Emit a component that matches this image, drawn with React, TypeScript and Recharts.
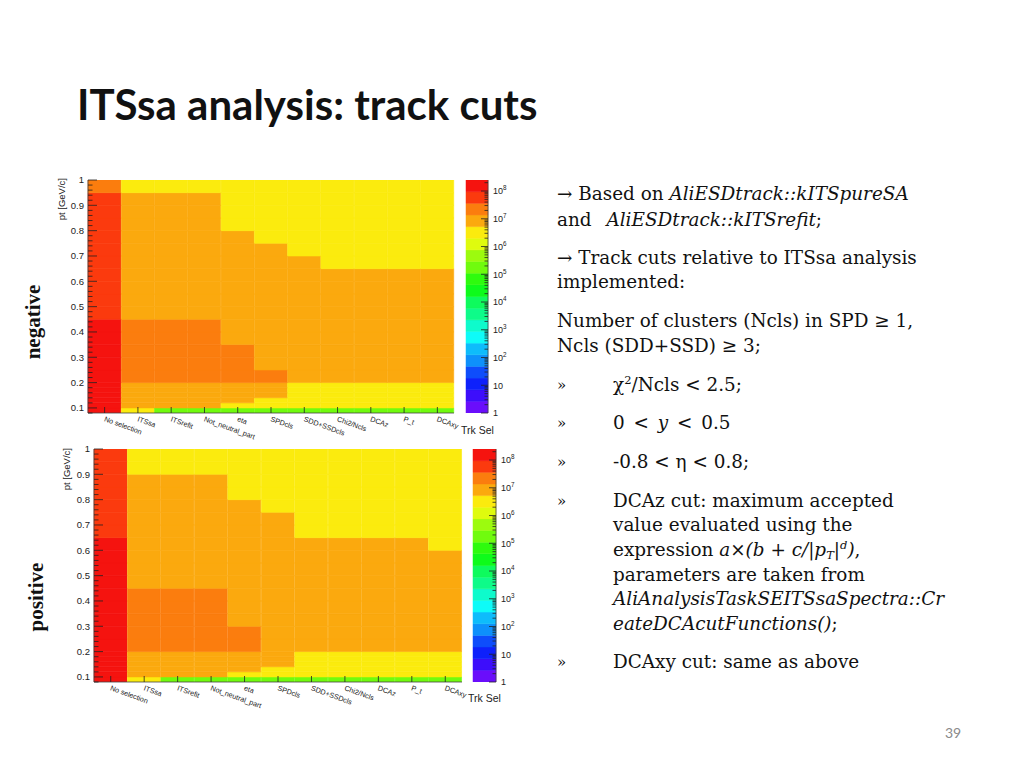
import React from "react"
import { BarChart, Bar, XAxis, YAxis, Cell } from "recharts"

// track selection steps (x bins)
const CATEGORIES = [
  "No selection",
  "ITSsa",
  "ITSrefit",
  "Not_neutral_part",
  "eta",
  "SPDcls",
  "SDD+SSDcls",
  "Chi2/Ncls",
  "DCAz",
  "P_t",
  "DCAxy",
]

// pt bin edges [GeV/c]
const PT_EDGES = [
  0.08, 0.1, 0.12, 0.14, 0.16, 0.18, 0.2, 0.25, 0.3, 0.35, 0.4, 0.45, 0.5, 0.55, 0.6, 0.65, 0.7, 0.75,
  0.8, 0.85, 0.9, 0.95, 1.0,
]

// counts per selection step, one entry per pt bin (low -> high)
const NEG_COUNTS = [
  [1.3e8, 1.5e8, 1.6e8, 1.6e8, 1.5e8, 1.5e8, 1.4e8, 1.3e8, 1.2e8, 1.1e8, 1.0e8, 8.0e7, 7.6e7, 7.0e7, 6.5e7, 6.0e7, 5.5e7, 5.0e7, 4.6e7, 4.2e7, 3.8e7, 3.0e7],
  [3.5e6, 9.0e6, 1.0e7, 1.1e7, 1.2e7, 1.25e7, 2.6e7, 2.4e7, 2.1e7, 1.8e7, 1.5e7, 1.3e7, 1.2e7, 1.1e7, 1.0e7, 9.5e6, 9.0e6, 8.0e6, 7.5e6, 7.0e6, 6.0e6, 4.5e6],
  [1.8e5, 8.5e6, 9.8e6, 1.05e7, 1.15e7, 1.2e7, 2.5e7, 2.3e7, 2.0e7, 1.7e7, 1.45e7, 1.25e7, 1.15e7, 1.05e7, 9.8e6, 9.2e6, 8.6e6, 7.8e6, 7.2e6, 6.6e6, 5.8e6, 4.3e6],
  [1.7e5, 8.2e6, 9.5e6, 1.0e7, 1.1e7, 1.15e7, 2.4e7, 2.2e7, 1.9e7, 1.6e7, 1.45e7, 1.2e7, 1.1e7, 1.0e7, 9.4e6, 8.8e6, 8.2e6, 7.5e6, 6.9e6, 6.3e6, 5.5e6, 4.1e6],
  [1.6e5, 4.5e6, 7.0e6, 8.5e6, 9.5e6, 1.05e7, 1.9e7, 1.7e7, 1.45e7, 1.3e7, 1.15e7, 1.05e7, 9.5e6, 8.8e6, 8.0e6, 7.2e6, 6.5e6, 5.8e6, 5.0e6, 4.5e6, 4.0e6, 3.5e6],
  [1.5e5, 3.5e6, 4.8e6, 6.5e6, 8.0e6, 9.5e6, 1.5e7, 1.3e7, 1.2e7, 1.15e7, 1.05e7, 9.5e6, 8.8e6, 8.0e6, 7.2e6, 6.4e6, 5.6e6, 5.0e6, 4.4e6, 3.9e6, 3.4e6, 3.0e6],
  [1.4e5, 2.6e6, 3.4e6, 4.0e6, 4.5e6, 5.0e6, 1.2e7, 1.15e7, 1.1e7, 1.0e7, 9.2e6, 8.5e6, 7.6e6, 6.8e6, 6.1e6, 5.5e6, 4.9e6, 4.4e6, 3.9e6, 3.5e6, 3.1e6, 2.8e6],
  [1.3e5, 2.5e6, 3.3e6, 3.9e6, 4.4e6, 4.9e6, 1.15e7, 1.1e7, 1.05e7, 9.6e6, 8.8e6, 8.0e6, 7.2e6, 6.4e6, 5.7e6, 4.9e6, 4.6e6, 4.1e6, 3.7e6, 3.3e6, 3.0e6, 2.7e6],
  [1.25e5, 2.4e6, 3.2e6, 3.8e6, 4.3e6, 4.8e6, 1.1e7, 1.05e7, 1.0e7, 9.2e6, 8.4e6, 7.6e6, 6.9e6, 6.1e6, 5.5e6, 4.8e6, 4.3e6, 3.9e6, 3.5e6, 3.2e6, 2.9e6, 2.6e6],
  [1.2e5, 2.35e6, 3.1e6, 3.7e6, 4.2e6, 4.7e6, 1.08e7, 1.03e7, 9.8e6, 9.0e6, 8.2e6, 7.4e6, 6.7e6, 6.0e6, 5.4e6, 4.7e6, 4.2e6, 3.8e6, 3.4e6, 3.1e6, 2.8e6, 2.5e6],
  [1.15e5, 2.3e6, 3.0e6, 3.6e6, 4.1e6, 4.6e6, 1.05e7, 1.0e7, 9.5e6, 8.8e6, 8.0e6, 7.2e6, 6.5e6, 5.9e6, 5.3e6, 4.6e6, 4.1e6, 3.7e6, 3.3e6, 3.0e6, 2.7e6, 2.4e6],
]

const POS_COUNTS = [
  [1.3e8, 1.5e8, 1.6e8, 1.6e8, 1.5e8, 1.5e8, 1.45e8, 1.35e8, 1.25e8, 1.2e8, 1.1e8, 1.05e8, 1.0e8, 9.8e7, 9.6e7, 9.0e7, 8.0e7, 7.0e7, 6.2e7, 5.5e7, 4.8e7, 4.2e7],
  [3.6e6, 9.2e6, 1.05e7, 1.15e7, 1.2e7, 1.3e7, 2.7e7, 2.5e7, 2.2e7, 1.9e7, 1.6e7, 1.3e7, 1.2e7, 1.1e7, 1.0e7, 9.4e6, 8.6e6, 7.8e6, 7.0e6, 6.2e6, 5.0e6, 4.4e6],
  [1.9e5, 8.8e6, 1.0e7, 1.1e7, 1.15e7, 1.25e7, 2.6e7, 2.4e7, 2.1e7, 1.8e7, 1.55e7, 1.25e7, 1.15e7, 1.05e7, 9.7e6, 9.0e6, 8.3e6, 7.5e6, 6.7e6, 5.9e6, 4.8e6, 4.2e6],
  [1.8e5, 8.4e6, 9.6e6, 1.05e7, 1.1e7, 1.2e7, 2.5e7, 2.3e7, 2.0e7, 1.7e7, 1.5e7, 1.2e7, 1.1e7, 1.0e7, 9.3e6, 8.7e6, 8.0e6, 7.2e6, 6.4e6, 5.6e6, 4.6e6, 4.0e6],
  [1.7e5, 4.6e6, 7.2e6, 8.6e6, 9.8e6, 1.1e7, 1.7e7, 1.5e7, 1.3e7, 1.2e7, 1.1e7, 1.0e7, 9.2e6, 8.5e6, 7.7e6, 7.0e6, 6.3e6, 5.6e6, 4.9e6, 4.4e6, 3.9e6, 3.5e6],
  [1.6e5, 3.6e6, 4.9e6, 6.6e6, 8.1e6, 9.6e6, 1.3e7, 1.25e7, 1.2e7, 1.1e7, 1.0e7, 9.4e6, 8.7e6, 7.9e6, 7.1e6, 6.3e6, 5.6e6, 5.0e6, 4.4e6, 3.9e6, 3.4e6, 3.0e6],
  [1.5e5, 2.7e6, 3.5e6, 4.1e6, 4.6e6, 5.1e6, 1.2e7, 1.15e7, 1.1e7, 1.0e7, 9.2e6, 8.4e6, 7.5e6, 6.7e6, 5.9e6, 5.0e6, 4.5e6, 4.0e6, 3.6e6, 3.2e6, 2.9e6, 2.6e6],
  [1.4e5, 2.6e6, 3.4e6, 4.0e6, 4.5e6, 5.0e6, 1.15e7, 1.1e7, 1.05e7, 9.6e6, 8.8e6, 8.0e6, 7.2e6, 6.4e6, 5.7e6, 4.9e6, 4.4e6, 3.9e6, 3.5e6, 3.1e6, 2.8e6, 2.5e6],
  [1.35e5, 2.5e6, 3.3e6, 3.9e6, 4.4e6, 4.9e6, 1.1e7, 1.05e7, 1.0e7, 9.2e6, 8.4e6, 7.7e6, 6.9e6, 6.2e6, 5.5e6, 4.8e6, 4.3e6, 3.8e6, 3.4e6, 3.0e6, 2.7e6, 2.4e6],
  [1.3e5, 2.45e6, 3.2e6, 3.8e6, 4.3e6, 4.8e6, 1.08e7, 1.03e7, 9.8e6, 9.0e6, 8.2e6, 7.5e6, 6.7e6, 6.0e6, 5.4e6, 4.7e6, 4.2e6, 3.7e6, 3.3e6, 2.9e6, 2.6e6, 2.3e6],
  [1.25e5, 2.4e6, 3.1e6, 3.7e6, 4.2e6, 4.7e6, 1.05e7, 1.0e7, 9.5e6, 8.7e6, 7.9e6, 7.1e6, 6.3e6, 5.6e6, 5.0e6, 4.5e6, 4.1e6, 3.6e6, 3.2e6, 2.8e6, 2.5e6, 2.2e6],
]

// z axis (log) of the palette
const Z_MAX = 2.5e8
const N_CONTOURS = 20
const Z_DECADES = [0, 1, 2, 3, 4, 5, 6, 7, 8]

const LOG_MAX = Math.log10(Z_MAX)
const LOG_STEP = LOG_MAX / N_CONTOURS

// ROOT "pretty" palette: 50 colours violet -> red, 20 contour levels
function contourColor(j: number) {
  const idx = Math.floor(((j + 0.99) * 50) / N_CONTOURS)
  if (idx >= 49) return "hsl(1, 92%, 51%)"
  const hue = 280 - (idx + 1) * 5.6
  return `hsl(${hue.toFixed(1)}, 97%, 52%)`
}

function countColor(c: number) {
  const j = Math.max(0, Math.min(N_CONTOURS - 1, Math.floor(Math.log10(c) / LOG_STEP)))
  return contourColor(j)
}

const SANS = '"Liberation Sans", Arial, sans-serif'
const SERIF = '"DejaVu Serif", "Liberation Serif", serif'
const SLIDE_SERIF = '"Liberation Serif", "Times New Roman", serif'

function buildRows() {
  return CATEGORIES.map((name) => {
    const row: Record<string, number | string> = { name, base: PT_EDGES[0] }
    for (let k = 0; k < PT_EDGES.length - 1; k++) {
      row[`b${k}`] = +(PT_EDGES[k + 1] - PT_EDGES[k]).toFixed(4)
    }
    return row
  })
}

const PT_TICKS: number[] = []
for (let v = 8; v <= 100; v += 2) PT_TICKS.push(v / 100)

function PtTick(props: any) {
  const { x, y, payload } = props
  const v = payload.value as number
  const major = Math.abs(v * 10 - Math.round(v * 10)) < 1e-6
  return (
    <g>
      <line x1={x} x2={x + (major ? 9 : 4.5)} y1={y} y2={y} stroke="#222" strokeWidth={0.8} />
      {major && (
        <text x={x - 4} y={y + 3.3} textAnchor="end" fontSize={9.5} fontFamily={SANS} fill="#222">
          {v === 1 ? "1" : v.toFixed(1)}
        </text>
      )}
    </g>
  )
}

function StepTick(props: any) {
  const { x, y, payload } = props
  const lx = x - 1
  const ly = y + 8
  return (
    <g>
      <line x1={x} x2={x} y1={y} y2={y - 6} stroke="#222" strokeWidth={0.8} />
      <text x={lx} y={ly} fontSize={7.2} fontFamily={SANS} fill="#222" transform={`rotate(20 ${lx} ${ly})`}>
        {payload.value}
      </text>
    </g>
  )
}

function Heatmap({ counts, left, top, width, height }: { counts: number[][]; left: number; top: number; width: number; height: number }) {
  const rows = buildRows()
  return (
    <div style={{ position: "absolute", left: left - 48, top: top - 10 }}>
      <BarChart
        width={width + 52}
        height={height + 60}
        data={rows}
        margin={{ top: 10, right: 4, left: 18, bottom: 0 }}
        barCategoryGap={0}
        barGap={0}
      >
        <Bar dataKey="base" stackId="pt" fill="none" isAnimationActive={false} />
        {PT_EDGES.slice(1).map((_, k) => (
          <Bar key={k} dataKey={`b${k}`} stackId="pt" isAnimationActive={false}>
            {counts.map((col, i) => {
              const c = countColor(col[k])
              return <Cell key={i} fill={c} stroke={c} strokeWidth={0.6} />
            })}
          </Bar>
        ))}
        <XAxis
          dataKey="name"
          type="category"
          height={50}
          interval={0}
          tickSize={0}
          tickMargin={0}
          tickLine={false}
          axisLine={{ stroke: "#444", strokeWidth: 0.8 }}
          tick={<StepTick />}
        />
        <YAxis
          type="number"
          domain={[PT_EDGES[0], PT_EDGES[PT_EDGES.length - 1]]}
          allowDataOverflow
          ticks={PT_TICKS}
          interval={0}
          width={30}
          tickSize={0}
          tickMargin={0}
          tickLine={false}
          axisLine={{ stroke: "#444", strokeWidth: 0.8 }}
          tick={<PtTick />}
        />
      </BarChart>
    </div>
  )
}

const Z_TICKS: number[] = []
for (const d of Z_DECADES) {
  Z_TICKS.push(d)
  for (let m = 2; m <= 9; m++) {
    const v = d + Math.log10(m)
    if (v <= LOG_MAX) Z_TICKS.push(v)
  }
}

function ZTick(props: any) {
  const { x, y, payload } = props
  const v = payload.value as number
  const major = Math.abs(v - Math.round(v)) < 1e-6
  return (
    <g>
      <line x1={x} x2={x - (major ? 7 : 3.5)} y1={y} y2={y} stroke="#222" strokeWidth={0.8} />
      {major && (
        <text x={x + 5} y={y + 3.3} fontSize={9} fontFamily={SANS} fill="#222">
          {v === 0 ? "1" : "10"}
          {v >= 2 && (
            <tspan dy={-4} fontSize={6.3}>
              {Math.round(v)}
            </tspan>
          )}
        </text>
      )}
    </g>
  )
}

function ColorBar({ left, top, width, height }: { left: number; top: number; width: number; height: number }) {
  const row: Record<string, number | string> = { name: "z" }
  for (let j = 0; j < N_CONTOURS; j++) row[`z${j}`] = LOG_STEP
  return (
    <div style={{ position: "absolute", left, top: top - 10 }}>
      <BarChart
        width={width + 40}
        height={height + 50}
        data={[row]}
        margin={{ top: 10, right: 0, left: 0, bottom: 40 }}
        barCategoryGap={0}
        barGap={0}
      >
        {Array.from({ length: N_CONTOURS }, (_, j) => (
          <Bar
            key={j}
            dataKey={`z${j}`}
            stackId="z"
            fill={contourColor(j)}
            stroke={contourColor(j)}
            strokeWidth={0.5}
            isAnimationActive={false}
          />
        ))}
        <XAxis dataKey="name" hide />
        <YAxis
          orientation="right"
          type="number"
          domain={[0, LOG_MAX]}
          allowDataOverflow
          ticks={Z_TICKS}
          interval={0}
          width={40}
          tickSize={0}
          tickMargin={0}
          tickLine={false}
          axisLine={{ stroke: "#444", strokeWidth: 0.8 }}
          tick={<ZTick />}
        />
      </BarChart>
    </div>
  )
}

function Line({ left, cy, children, size = 18.4 }: { left: number; cy: number; children: React.ReactNode; size?: number }) {
  return (
    <div
      style={{
        position: "absolute",
        left,
        top: cy - 13,
        lineHeight: "26px",
        height: 26,
        fontSize: size,
        fontFamily: SERIF,
        whiteSpace: "nowrap",
        color: "#111",
      }}
    >
      {children}
    </div>
  )
}

const Bullet = ({ cy }: { cy: number }) => (
  <Line left={557} cy={cy} size={15}>
    »
  </Line>
)

const small = { fontSize: 11.5, position: "relative" as const, lineHeight: 0 }

export default function App() {
  return (
    <div style={{ position: "absolute", left: 0, top: 0, width: 1024, height: 768, background: "#fff", overflow: "hidden" }}>
      <style>{`.recharts-surface{overflow:visible}`}</style>

      <div
        style={{
          position: "absolute",
          left: 77,
          top: 79,
          fontFamily: 'Lato, "Open Sans", sans-serif',
          fontWeight: 700,
          fontSize: 42,
          lineHeight: "50px",
          color: "#111",
          whiteSpace: "nowrap",
        }}
      >
        ITSsa analysis: track cuts
      </div>

      <Heatmap counts={NEG_COUNTS} left={88} top={180} width={366} height={233} />
      <ColorBar left={466} top={180} width={22} height={233} />
      <Heatmap counts={POS_COUNTS} left={94} top={449} width={368} height={233} />
      <ColorBar left={473} top={449} width={23} height={233} />

      <svg width={1024} height={768} style={{ position: "absolute", left: 0, top: 0, pointerEvents: "none" }}>
        <text x={65} y={178} transform="rotate(-90 65 178)" textAnchor="end" fontSize={9.5} fontFamily={SANS} fill="#222">
          pt [GeV/c]
        </text>
        <text x={70} y={448} transform="rotate(-90 70 448)" textAnchor="end" fontSize={9.5} fontFamily={SANS} fill="#222">
          pt [GeV/c]
        </text>
        <text x={461} y={434} fontSize={10.5} fontFamily={SANS} fill="#222">
          Trk Sel
        </text>
        <text x={468} y={702} fontSize={10.5} fontFamily={SANS} fill="#222">
          Trk Sel
        </text>
        <text x={40} y={322} transform="rotate(-90 40 322)" textAnchor="middle" fontSize={21} fontWeight={700} fontFamily={SLIDE_SERIF} fill="#111">
          negative
        </text>
        <text x={43} y={597} transform="rotate(-90 43 597)" textAnchor="middle" fontSize={21} fontWeight={700} fontFamily={SLIDE_SERIF} fill="#111">
          positive
        </text>
        <text x={953} y={738} textAnchor="middle" fontSize={14} fontFamily='Lato, "Open Sans", sans-serif' fill="#8a8a8a">
          39
        </text>
      </svg>

      <Line left={557} cy={194}>
        → Based on <i>AliESDtrack::kITSpureSA</i>
      </Line>
      <Line left={557} cy={220}>
        and <i style={{ marginLeft: 9 }}>AliESDtrack::kITSrefit</i>;
      </Line>
      <Line left={557} cy={258}>
        → Track cuts relative to ITSsa analysis
      </Line>
      <Line left={557} cy={282}>
        implemented:
      </Line>
      <Line left={557} cy={321}>
        Number of clusters (Ncls) in SPD ≥ 1,
      </Line>
      <Line left={557} cy={346}>
        Ncls (SDD+SSD) ≥ 3;
      </Line>

      <Bullet cy={385} />
      <Line left={613} cy={385}>
        χ<span style={{ ...small, top: -7 }}>2</span>/Ncls &lt; 2.5;
      </Line>
      <Bullet cy={423} />
      <Line left={613} cy={423}>
        <span style={{ wordSpacing: 3 }}>
          0 &lt; <i>y</i> &lt; 0.5
        </span>
      </Line>
      <Bullet cy={462} />
      <Line left={613} cy={462}>
        -0.8 &lt; η &lt; 0.8;
      </Line>
      <Bullet cy={501} />
      <Line left={613} cy={501}>
        DCAz cut: maximum accepted
      </Line>
      <Line left={613} cy={525}>
        value evaluated using the
      </Line>
      <Line left={613} cy={550}>
        expression{" "}
        <i>
          a×(b + c/|p<span style={{ ...small, top: 3 }}>T</span>|<span style={{ ...small, top: -7 }}>d</span>)
        </i>
        ,
      </Line>
      <Line left={613} cy={575}>
        parameters are taken from
      </Line>
      <Line left={613} cy={599}>
        <i>AliAnalysisTaskSEITSsaSpectra::Cr</i>
      </Line>
      <Line left={613} cy={624}>
        <i>eateDCAcutFunctions()</i>;
      </Line>
      <Bullet cy={662} />
      <Line left={613} cy={662}>
        DCAxy cut: same as above
      </Line>
    </div>
  )
}
